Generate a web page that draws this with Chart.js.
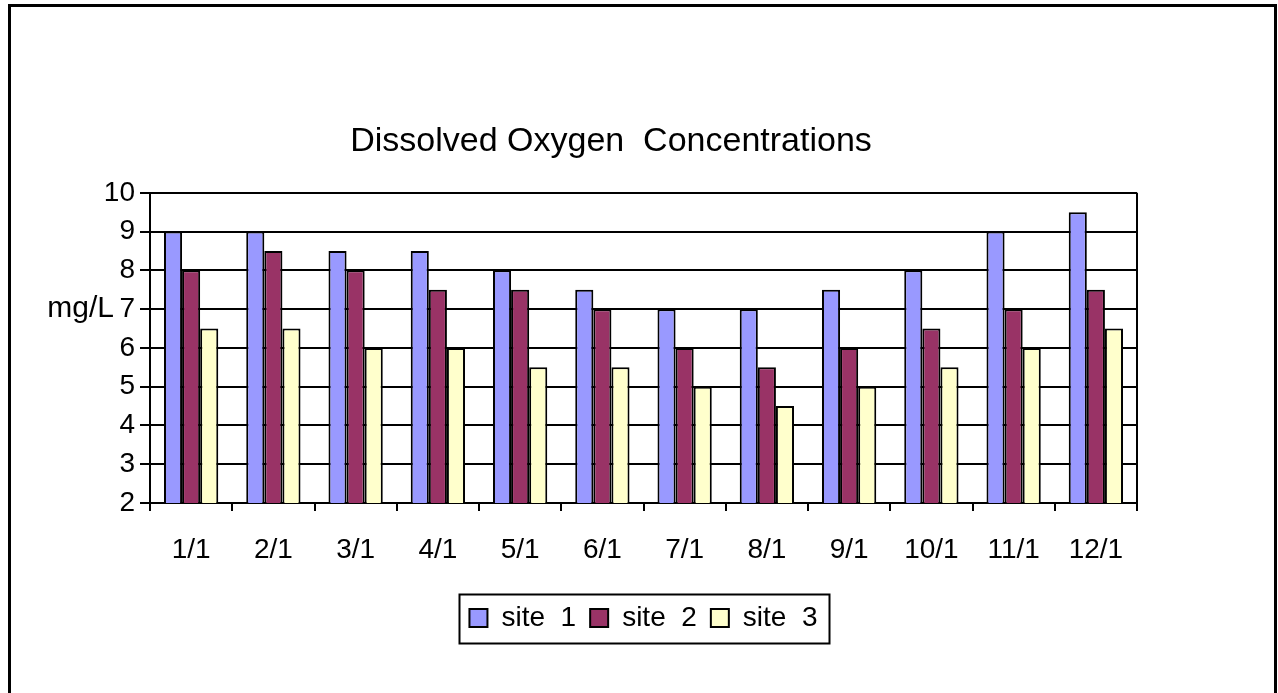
<!DOCTYPE html>
<html>
<head>
<meta charset="utf-8">
<title>Dissolved Oxygen Concentrations</title>
<script src="https://cdn.jsdelivr.net/npm/chart.js@4/dist/chart.umd.min.js"></script>
<style>
  html, body { margin: 0; padding: 0; background: #ffffff; }
  canvas { display: block; }
</style>
</head>
<body>
<canvas id="chart" width="1278" height="693"></canvas>
<script>
// Monthly sample dates
const categories = ['1/1', '2/1', '3/1', '4/1', '5/1', '6/1', '7/1', '8/1', '9/1', '10/1', '11/1', '12/1'];

// Dissolved oxygen readings (mg/L) per site
const site1 = [9, 9, 8.5, 8.5, 8, 7.5, 7, 7, 7.5, 8, 9, 9.5];
const site2 = [8, 8.5, 8, 7.5, 7.5, 7, 6, 5.5, 6, 6.5, 7, 7.5];
const site3 = [6.5, 6.5, 6, 6, 5.5, 5.5, 5, 4.5, 5, 5.5, 6, 6.5];

const seriesNames = ['site  1', 'site  2', 'site  3'];
const seriesColors = ['#9999FF', '#993366', '#FFFFCC'];

const yMin = 2;
const yMax = 10;
const yStep = 1;
const yUnit = 'mg/L';
const chartTitle = 'Dissolved Oxygen  Concentrations';

Chart.defaults.font.family = "Arial, 'Liberation Sans', sans-serif";
Chart.defaults.color = '#000000';

// Page frame, plot-area right edge, legend outline and the unit label
const decorations = {
  id: 'decorations',
  beforeDraw(chart) {
    const ctx = chart.ctx;
    ctx.save();
    ctx.fillStyle = '#ffffff';
    ctx.fillRect(0, 0, chart.width, chart.height);
    ctx.strokeStyle = '#000000';
    ctx.lineWidth = 3;
    ctx.strokeRect(9.5, 5.5, 1266, 700);
    ctx.restore();
  },
  afterDraw(chart) {
    const ctx = chart.ctx;
    const area = chart.chartArea;
    ctx.save();
    ctx.strokeStyle = '#000000';
    ctx.lineWidth = 2;
    ctx.beginPath();
    ctx.moveTo(area.right, area.top);
    ctx.lineTo(area.right, area.bottom);
    ctx.stroke();

    const boxes = chart.legend.legendHitBoxes;
    if (boxes && boxes.length) {
      const first = boxes[0];
      const last = boxes[boxes.length - 1];
      const cy = first.top + first.height / 2;
      const left = first.left - 10;
      const right = last.left + last.width + 12;
      ctx.lineWidth = 2;
      ctx.strokeRect(Math.round(left) + 0.5, Math.round(cy - 24) + 0.5,
                     Math.round(right - left), 49);
    }

    const yScale = chart.scales.y;
    ctx.fillStyle = '#000000';
    ctx.font = "30px Arial, 'Liberation Sans', sans-serif";
    ctx.textAlign = 'right';
    ctx.textBaseline = 'middle';
    ctx.fillText(yUnit, 114, yScale.getPixelForValue(7));
    ctx.restore();
  }
};

new Chart(document.getElementById('chart'), {
  type: 'bar',
  data: {
    labels: categories,
    datasets: [site1, site2, site3].map((values, i) => ({
      label: seriesNames[i],
      data: values,
      backgroundColor: seriesColors[i],
      borderColor: '#000000',
      borderWidth: 2,
      categoryPercentage: 0.66,
      barPercentage: 1.0
    }))
  },
  options: {
    responsive: false,
    animation: false,
    devicePixelRatio: 1,
    layout: { padding: { left: 85, right: 141, top: 0, bottom: 51 } },
    plugins: {
      title: {
        display: true,
        text: chartTitle,
        color: '#000000',
        font: { size: 34, weight: 'normal' },
        padding: { top: 121, bottom: 31 }
      },
      legend: {
        position: 'bottom',
        fullSize: false,
        labels: {
          boxWidth: 18,
          boxHeight: 18,
          padding: 14,
          color: '#000000',
          font: { size: 28 }
        }
      },
      tooltip: { enabled: false }
    },
    scales: {
      x: {
        grid: {
          offset: true,
          drawOnChartArea: false,
          drawTicks: true,
          tickLength: 8,
          color: '#000000',
          lineWidth: 2
        },
        border: { color: '#000000', width: 2 },
        ticks: { font: { size: 28 }, padding: 22, maxRotation: 0, autoSkip: false },
        afterFit(scale) { scale.height = 87; }
      },
      y: {
        min: yMin,
        max: yMax,
        grid: {
          color: '#000000',
          lineWidth: 2,
          drawTicks: true,
          tickLength: 10
        },
        border: { color: '#000000', width: 2 },
        ticks: { stepSize: yStep, font: { size: 28 }, padding: 5 },
        afterFit(scale) { scale.width = 65; }
      }
    }
  },
  plugins: [decorations]
});
</script>
</body>
</html>
